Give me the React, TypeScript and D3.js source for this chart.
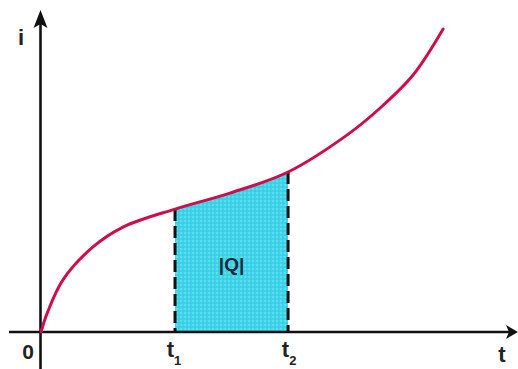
import React from "react";
import * as d3 from "d3";

const tValues = [0, 0.13, 0.46, 1.09, 1.72, 2.81, 3.96, 5.18, 6.42, 7.11, 7.8, 8.43];
const iValues = [0, 0.59, 1.63, 2.66, 3.28, 3.84, 4.34, 5.0, 6.16, 7.0, 8.03, 9.47];
const t1Value = 2.81;
const t2Value = 5.18;
const t1Current = 3.84;
const t2Current = 5.0;
const areaLabel = "|Q|";

const W = 518;
const H = 369;

export default function App() {
  const x = d3.scaleLinear().domain([0, 10]).range([41, 518]);
  const y = d3.scaleLinear().domain([0, 10]).range([332, 12]);
  const data = tValues.map((t, k) => ({ t, i: iValues[k] }));

  const curve = d3.curveCatmullRom.alpha(0.5);
  const line = d3
    .line<{ t: number; i: number }>()
    .x((d) => x(d.t))
    .y((d) => y(d.i))
    .curve(curve);
  const area = d3
    .area<{ t: number; i: number }>()
    .x((d) => x(d.t))
    .y0(y(0))
    .y1((d) => y(d.i))
    .curve(curve);

  const ox = x(0) - 0.5;
  const oy = y(0);
  const font = "'Liberation Sans', Arial, sans-serif";

  return (
    <svg
      width={W}
      height={H}
      style={{ position: "absolute", left: 0, top: 0, display: "block", background: "#fff" }}
    >
      <defs>
        <pattern id="dots" width="4" height="4" patternUnits="userSpaceOnUse">
          <rect width="4" height="4" fill="#3fd3e8" />
          <circle cx="1" cy="1" r="0.8" fill="#86e6f2" />
          <circle cx="3" cy="3" r="0.7" fill="#2cc6de" />
        </pattern>
        <clipPath id="band">
          <rect x={x(t1Value)} y={0} width={x(t2Value) - x(t1Value)} height={H} />
        </clipPath>
      </defs>

      <path d={area(data) || ""} fill="url(#dots)" clipPath="url(#band)" />

      {/* axes */}
      <line x1={9} y1={oy} x2={510} y2={oy} stroke="#111" strokeWidth={2.6} />
      <line x1={ox} y1={369} x2={ox} y2={24} stroke="#111" strokeWidth={2.6} />
      <path d={`M518,${oy} L506,${oy - 7} L509,${oy} L506,${oy + 7} Z`} fill="#111" />
      <path d={`M${ox},10 L${ox - 7},28 L${ox},24 L${ox + 7},28 Z`} fill="#111" />

      {/* dashed verticals */}
      <line
        x1={x(t1Value)}
        x2={x(t1Value)}
        y1={y(t1Current)}
        y2={oy}
        stroke="#111"
        strokeWidth={3}
        strokeDasharray="12 5"
      />
      <line
        x1={x(t2Value)}
        x2={x(t2Value)}
        y1={y(t2Current)}
        y2={oy}
        stroke="#111"
        strokeWidth={3}
        strokeDasharray="12 5"
      />

      {/* curve */}
      <path d={line(data) || ""} fill="none" stroke="#cc0f4a" strokeWidth={3} strokeLinecap="round" />

      {/* labels */}
      <text x={21} y={45} fontFamily={font} fontWeight="bold" fontSize={22} fill="#222" textAnchor="middle">
        i
      </text>
      <text x={28} y={359} fontFamily={font} fontWeight="bold" fontSize={21} fill="#222" textAnchor="middle">
        0
      </text>
      <text x={x(t1Value) - 1} y={357} fontFamily={font} fontWeight="bold" fontSize={22} fill="#222" textAnchor="middle">
        t
        <tspan fontSize={13} dy={8}>
          1
        </tspan>
      </text>
      <text x={x(t2Value) + 1} y={357} fontFamily={font} fontWeight="bold" fontSize={22} fill="#222" textAnchor="middle">
        t
        <tspan fontSize={13} dy={8}>
          2
        </tspan>
      </text>
      <text x={502} y={362} fontFamily={font} fontWeight="bold" fontSize={22} fill="#222" textAnchor="middle">
        t
      </text>
      <text
        x={(x(t1Value) + x(t2Value)) / 2}
        y={271}
        fontFamily={font}
        fontWeight="bold"
        fontSize={19}
        fill="#1a2a3a"
        textAnchor="middle"
      >
        {areaLabel}
      </text>
    </svg>
  );
}
